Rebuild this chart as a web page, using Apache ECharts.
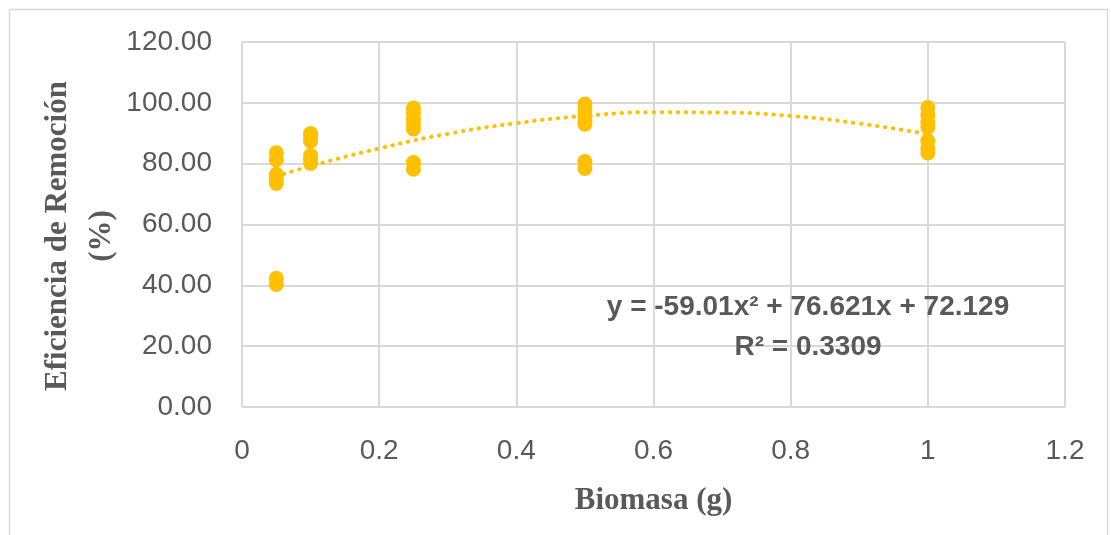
<!DOCTYPE html>
<html>
<head>
<meta charset="utf-8">
<script src="https://cdn.jsdelivr.net/npm/echarts@6/dist/echarts.min.js"></script>
<style>
html,body{margin:0;padding:0;background:#fff;}
#chart{width:1111px;height:535px;}
</style>
</head>
<body>
<div id="chart"></div>
<script>
// Biomass doses (g) and removal efficiencies (%)
const biomassLevels = [0.05, 0.1, 0.25, 0.5, 1];
const eff005 = [83.6, 81.3, 76.5, 75.0, 73.5, 42.3, 40.3];
const eff010 = [89.9, 88.5, 87.4, 82.7, 81.5, 80.1];
const eff025 = [98.3, 96.5, 94.5, 93.0, 91.4, 80.4, 78.2];
const eff050 = [99.6, 97.5, 95.5, 94.0, 93.0, 80.7, 78.4];
const eff100 = [98.5, 96.0, 93.5, 92.0, 87.5, 85.0, 83.5];
const effGroups = [eff005, eff010, eff025, eff050, eff100];

// Polynomial trend line
const trendX = [0.05, 0.1, 0.2, 0.3, 0.4, 0.5, 0.6, 0.7, 0.8, 0.9, 1.0];
const trendY = [75.8, 79.2, 85.0, 89.8, 93.3, 95.7, 96.9, 96.8, 95.7, 93.2, 89.7];

const xTickLabels = ['0', '0.2', '0.4', '0.6', '0.8', '1', '1.2'];
const yTickLabels = ['0.00', '20.00', '40.00', '60.00', '80.00', '100.00', '120.00'];

const equationText = 'y = -59.01x² + 76.621x + 72.129';
const r2Text = 'R² = 0.3309';

const scatterData = [];
biomassLevels.forEach((x, i) => effGroups[i].forEach(v => scatterData.push([x, v])));
const trendData = trendX.map((x, i) => [x, trendY[i]]);

const chart = echarts.init(document.getElementById('chart'), null, {renderer: 'canvas'});
const gridColor = '#d9d9d9';
const textColor = '#595959';
const yellow = '#FFC000';

chart.setOption({
  animation: false,
  backgroundColor: '#ffffff',
  grid: {left: 242, right: 46, top: 42, bottom: 128},
  xAxis: {
    type: 'value', min: 0, max: 1.2, interval: 0.2,
    axisLine: {show: false},
    axisTick: {show: false},
    splitLine: {show: true, lineStyle: {color: gridColor, width: 2}},
    axisLabel: {
      color: textColor, fontFamily: 'Liberation Sans', fontSize: 28, margin: 30,
      formatter: v => xTickLabels[Math.round(v / 0.2)]
    },
    name: 'Biomasa (g)', nameLocation: 'middle', nameGap: 78,
    nameTextStyle: {color: textColor, fontFamily: 'Liberation Serif', fontWeight: 'bold', fontSize: 31}
  },
  yAxis: {
    type: 'value', min: 0, max: 120, interval: 20,
    axisLine: {show: false},
    axisTick: {show: false},
    splitLine: {show: true, lineStyle: {color: gridColor, width: 2}},
    axisLabel: {
      color: textColor, fontFamily: 'Liberation Sans', fontSize: 28, margin: 30,
      formatter: v => yTickLabels[Math.round(v / 20)]
    }
  },
  graphic: [
    {type: 'rect', silent: true, z: -10,
      shape: {x: 9.5, y: 9.5, width: 1098, height: 560},
      style: {fill: 'none', stroke: gridColor, lineWidth: 1.5}},
    {type: 'text', x: 80, y: 236, rotation: Math.PI / 2, z: 100,
      style: {text: 'Eficiencia de Remoción\n(%)', fill: textColor,
        font: 'bold 31px "Liberation Serif"', align: 'center', verticalAlign: 'middle',
        lineHeight: 44}},
    {type: 'text', x: 808, y: 327, z: 100,
      style: {text: equationText + '\n' + r2Text, fill: textColor,
        font: 'bold 28px "Liberation Sans"', align: 'center', verticalAlign: 'middle',
        lineHeight: 40}}
  ],
  series: [
    {
      type: 'line', data: trendData, smooth: true, showSymbol: false, z: 3,
      lineStyle: {color: yellow, width: 4, type: [0.5, 7.5], cap: 'round'}
    },
    {
      type: 'scatter', data: scatterData, symbol: 'circle', symbolSize: 15, z: 2,
      itemStyle: {color: yellow, opacity: 1}
    }
  ]
});
</script>
</body>
</html>
